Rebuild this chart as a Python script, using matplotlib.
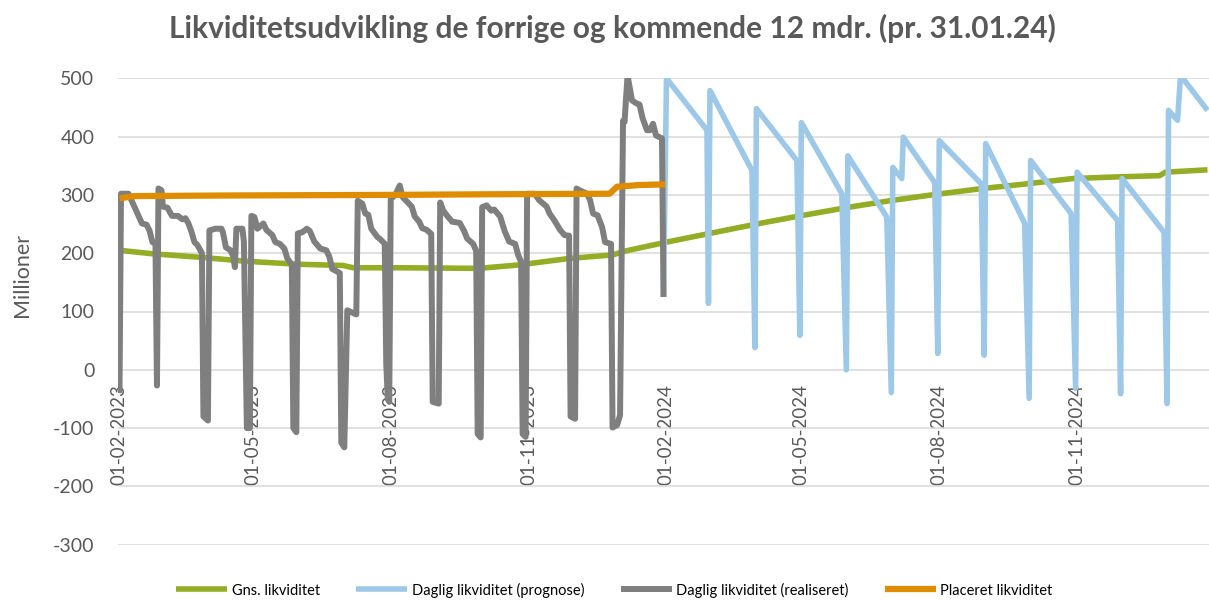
import matplotlib
matplotlib.use("Agg")
import matplotlib.pyplot as plt
import matplotlib.dates as mdates
import pandas as pd

# ---------------- data ----------------
start_date = "2023-02-01"

# Daglig likviditet (realiseret): day offset from start, value (mio.)
real_days = [0, 1, 6, 9, 12, 15, 18, 20, 22, 24, 25, 26, 28, 29, 32, 35, 39, 42, 44, 46, 48, 50, 52, 55,
             56, 59, 60, 64, 68, 69, 71, 74, 76, 77, 78, 82, 83, 85, 87, 88, 90, 92, 96, 98, 102, 104,
             107, 110, 112, 115, 116, 118, 119, 122, 125, 127, 130, 134, 138, 140, 142, 147, 148, 150,
             152, 158, 159, 162, 164, 166, 168, 172, 174, 177, 178, 179, 180, 181, 184, 187, 189, 192,
             195, 197, 200, 202, 205, 208, 209, 213, 214, 216, 219, 222, 227, 230, 232, 236, 238, 239,
             241, 242, 245, 248, 250, 254, 257, 260, 264, 266, 268, 269, 271, 272, 277, 280, 285, 287,
             290, 294, 297, 300, 301, 304, 305, 307, 312, 314, 316, 319, 322, 324, 328, 329, 332, 334,
             336, 337, 339, 342, 345, 347, 349, 352, 354, 356, 358, 362, 363]
real_vals = [-40, 302, 302, 285, 268, 251, 249, 239, 219, 216, -27, 311, 308, 280, 278, 264, 264, 258, 260,
             251, 237, 219, 214, 200, -80, -87, 239, 242, 242, 236, 210, 205, 194, 176, 242, 242, 220,
             -100, -100, 264, 262, 242, 251, 240, 231, 219, 216, 208, 191, 180, -100, -107, 234, 236,
             242, 238, 220, 208, 205, 194, 173, 166, -125, -133, 102, 95, 290, 285, 268, 266, 242, 228,
             224, 216, 10, -50, -55, 293, 300, 316, 296, 288, 280, 263, 254, 243, 240, 233, -55, -58,
             287, 273, 263, 254, 252, 238, 225, 216, 204, -110, -116, 279, 282, 273, 275, 263, 238, 220,
             216, 197, 185, -110, -115, 302, 302, 291, 280, 268, 257, 240, 231, 230, -80, -84, 311, 308,
             302, 291, 268, 265, 245, 219, 216, -99, -95, -78, 427, 425, 505, 462, 457, 455, 432, 411,
             411, 422, 402, 397, 125]

# Daglig likviditet (prognose)
prog_days = [363, 365, 392, 393, 394, 422, 424, 425, 452, 454, 455, 482, 485, 486, 512, 515, 516, 522,
             523, 544, 546, 547, 575, 577, 578, 604, 607, 608, 635, 638, 639, 666, 668, 669, 697, 699,
             700, 706, 708, 726]
prog_vals = [125, 500, 411, 114, 479, 342, 38, 448, 359, 59, 424, 302, 0, 367, 262, -39, 347, 328,
             399, 321, 28, 393, 319, 25, 388, 251, -49, 359, 268, -32, 339, 256, -41, 328, 236, -58,
             445, 428, 505, 445]

# Gns. likviditet
avg_days = [0, 22, 54, 85, 120, 149, 156, 187, 240, 267, 300, 329, 338, 365, 394, 427, 454, 487, 514,
            542, 576, 602, 636, 667, 694, 698, 726]
avg_vals = [205, 199, 193, 186, 181, 179, 175, 175, 174, 180, 191, 197, 204, 219, 234, 251, 264, 279,
            290, 300, 311, 318, 328, 331, 333, 339, 343]

# Placeret likviditet
plac_days = [0, 10, 73, 180, 244, 327, 332, 347, 364]
plac_vals = [294, 298, 299, 300, 301, 302, 314, 317, 318]

tick_dates = ["2023-02-01", "2023-05-01", "2023-08-01", "2023-11-01",
              "2024-02-01", "2024-05-01", "2024-08-01", "2024-11-01"]
y_ticks = [-300, -200, -100, 0, 100, 200, 300, 400, 500]

title = "Likviditetsudvikling de forrige og kommende 12 mdr. (pr. 31.01.24)"
labels = ["Gns. likviditet", "Daglig likviditet (prognose)",
          "Daglig likviditet (realiseret)", "Placeret likviditet"]
colors = ["#93AD24", "#9DC8E8", "#7F7F7F", "#DE8C00"]

# ---------------- plot ----------------
FONT = ["Lato", "DejaVu Sans"]
plt.rcParams["font.family"] = FONT
plt.rcParams["axes.unicode_minus"] = False
TXT = "#595959"

s = pd.Timestamp(start_date)
def to_dates(days):
    return [s + pd.Timedelta(days=d) for d in days]

fig = plt.figure(figsize=(12.09, 6.0), dpi=100)
ax = fig.add_axes([118 / 1209, 1 - 544.7 / 600, 1091 / 1209, (544.7 - 78.3) / 600])

series = [(avg_days, avg_vals), (prog_days, prog_vals), (real_days, real_vals), (plac_days, plac_vals)]
widths = [4.0, 4.0, 4.3, 4.5]
for i, ((d, v), lab, c, w) in enumerate(zip(series, labels, colors, widths)):
    ax.plot(to_dates(d), v, color=c, lw=w, label=lab, zorder=3 + i,
            solid_joinstyle="round", solid_capstyle="butt")

ax.set_ylim(-300, 500)
ax.set_xlim(s - pd.Timedelta(days=1), s + pd.Timedelta(days=727))
ax.set_yticks(y_ticks)
ax.grid(axis="y", color="#D9D9D9", lw=1.1, zorder=0)
ax.grid(axis="x", visible=False)
for sp in ["top", "right", "left"]:
    ax.spines[sp].set_visible(False)
ax.spines["bottom"].set_position(("data", 0))
ax.spines["bottom"].set_visible(False)

ax.set_xticks([pd.Timestamp(t) for t in tick_dates])
ax.xaxis.set_major_formatter(mdates.DateFormatter("%d-%m-%Y"))
ax.tick_params(axis="x", length=0, pad=10, labelsize=13.5, labelcolor=TXT, labelrotation=90)
ax.tick_params(axis="y", length=0, pad=17, labelsize=14, labelcolor=TXT)

fig.text(22 / 1209, 1 - 275 / 600, "Millioner", rotation=90, ha="center", va="center",
         fontsize=15.5, color=TXT)
fig.text(612.5 / 1209, 1 - 28 / 600, title, ha="center", va="center",
         fontsize=21.5, fontweight="bold", color=TXT)

leg = fig.legend(loc="center", bbox_to_anchor=(614.5 / 1209, 1 - 590 / 600), ncol=4,
                 frameon=False, fontsize=10.5, handlelength=3.5, handletextpad=0.3,
                 columnspacing=2.5, labelcolor="#000000")

fig.savefig("out.png", dpi=100)
